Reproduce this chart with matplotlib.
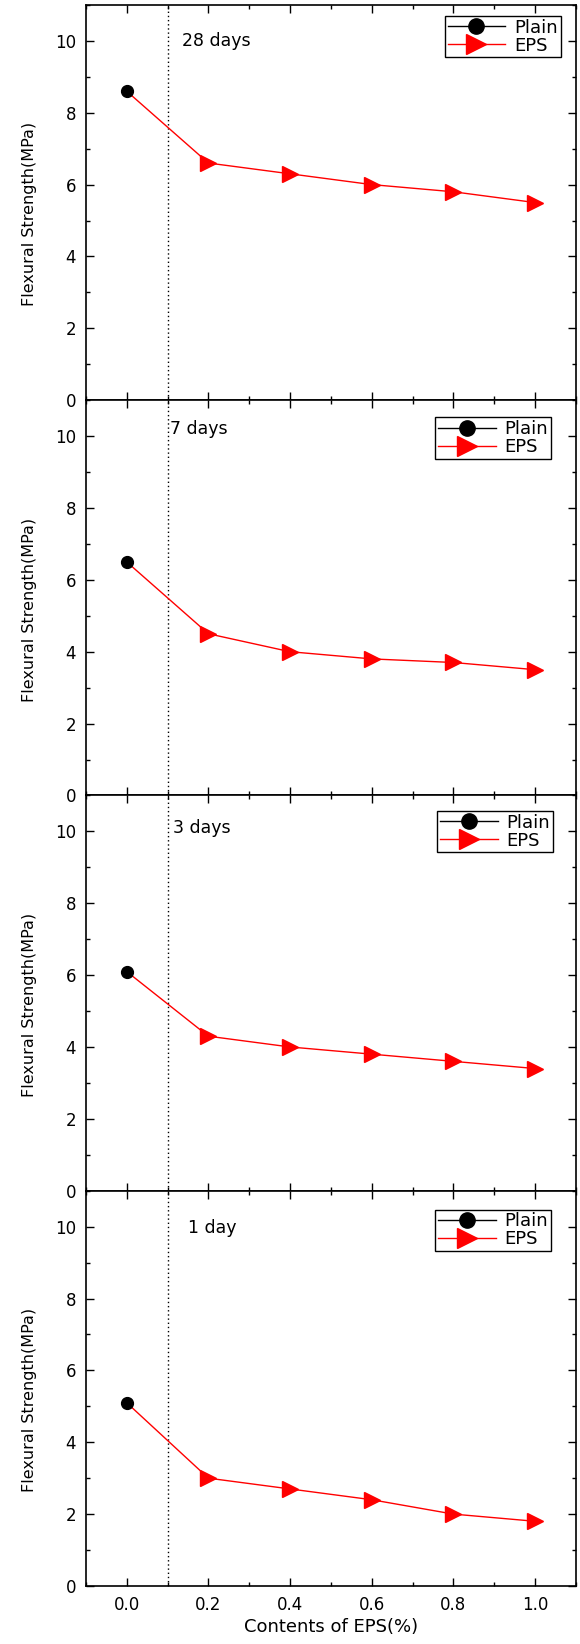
import matplotlib.pyplot as plt
from matplotlib.lines import Line2D
from matplotlib.ticker import MultipleLocator

plt.rcParams['font.family'] = ['DejaVu Sans']

eps_contents = [0.0, 0.2, 0.4, 0.6, 0.8, 1.0]
ages = ['28 days', '7 days', '3 days', '1 day']
plain_strength = [8.6, 6.5, 6.1, 5.1]
eps_strength = [
    [8.6, 6.6, 6.3, 6.0, 5.8, 5.5],
    [6.5, 4.5, 4.0, 3.8, 3.7, 3.5],
    [6.1, 4.3, 4.0, 3.8, 3.6, 3.4],
    [5.1, 3.0, 2.7, 2.4, 2.0, 1.8],
]
xticklabels = ['0.0', '0.2', '0.4', '0.6', '0.8', '1.0']

# per-panel placement of the age label and legend
label_pos = [(0.135, 10.0), (0.105, 10.2), (0.113, 10.1), (0.15, 9.95)]
legend_anchor = [(0.969, 0.972), (0.949, 0.957), (0.953, 0.961), (0.949, 0.952)]

fig, axes = plt.subplots(4, 1, figsize=(5.8, 16.44), dpi=100, sharex=True)
fig.subplots_adjust(left=0.148, right=0.993, top=0.997, bottom=0.0353, hspace=0)

for i, ax in enumerate(axes):
    ax.plot(eps_contents, eps_strength[i], color='red', lw=1.0, marker='>',
            markersize=12, markevery=list(range(1, 6)), zorder=3)
    ax.plot(eps_contents[:1], plain_strength[i:i + 1], color='black',
            marker='o', markersize=8.5, ls='none', zorder=4)
    ax.axvline(0.1, color='black', ls=(0, (1, 2)), lw=1.0)

    ax.text(label_pos[i][0], label_pos[i][1], ages[i], fontsize=12.5,
            ha='left', va='center')

    ax.set_xlim(-0.1, 1.1)
    ax.set_ylim(0, 11)
    ax.set_yticks([0, 2, 4, 6, 8, 10])
    ax.yaxis.set_minor_locator(MultipleLocator(1))
    ax.xaxis.set_minor_locator(MultipleLocator(0.1))
    ax.tick_params(which='both', direction='in', top=True, right=True,
                   labelsize=12, width=1.0)
    ax.tick_params(which='major', length=6, pad=7)
    ax.tick_params(which='minor', length=3)
    for sp in ax.spines.values():
        sp.set_linewidth(1.2)
    ax.set_ylabel('Flexural Strength(MPa)', fontsize=11.5)
    ax.yaxis.set_label_coords(-0.1, 0.47)

    handles = [Line2D([], [], color='black', lw=1.0, marker='o', markersize=11),
               Line2D([], [], color='red', lw=1.0, marker='>', markersize=14)]
    leg = ax.legend(handles, ['Plain', 'EPS'], loc='upper right',
                    bbox_to_anchor=legend_anchor[i], borderaxespad=0,
                    fancybox=False, edgecolor='black', framealpha=1,
                    fontsize=13, handlelength=3.2, labelspacing=0.0,
                    borderpad=0.15, handletextpad=0.5)
    leg.get_frame().set_linewidth(1.0)

axes[-1].set_xticks(eps_contents)
axes[-1].set_xticklabels(xticklabels)
axes[-1].set_xlabel('Contents of EPS(%)', fontsize=13, labelpad=3)

fig.savefig('out.png', dpi=100)
